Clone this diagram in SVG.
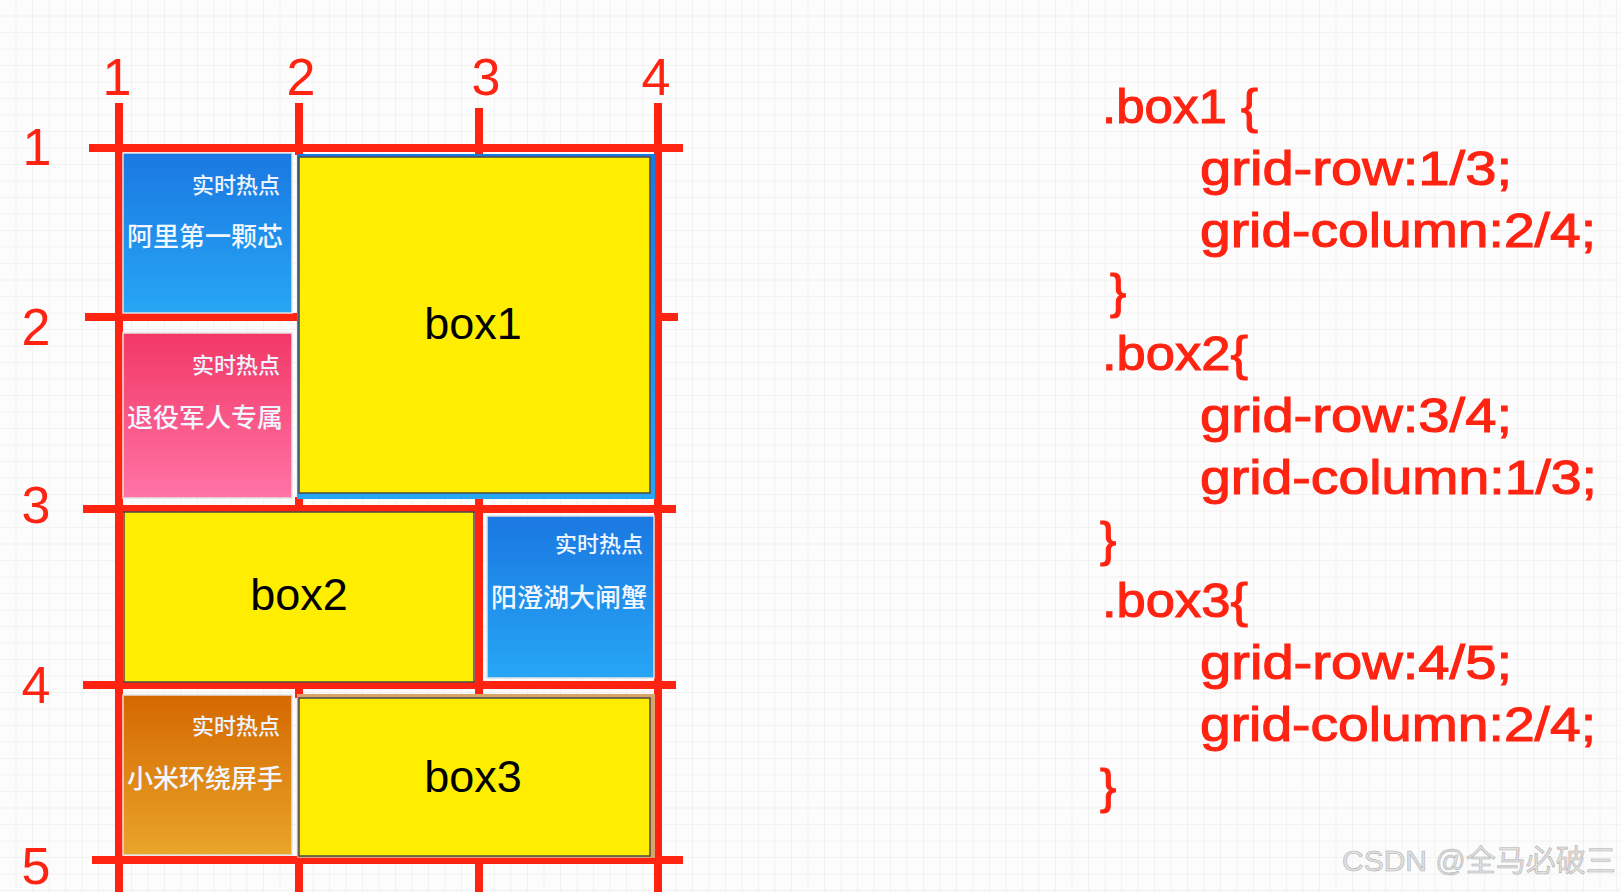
<svg xmlns="http://www.w3.org/2000/svg" width="1621" height="892" viewBox="0 0 1621 892">
<style>
.ln{stroke:#ff2312;stroke-width:8;fill:none}
.num{font-family:"Liberation Sans",Arial,sans-serif;font-size:52px;fill:#ff2312;text-anchor:middle}
.code{font-family:"Liberation Sans",Arial,sans-serif;font-size:49px;fill:#ff2312;stroke:#ff2312;stroke-width:1.1}
.ybox{fill:#ffee00;stroke:#4a4a4a;stroke-width:1.5}
.ylab{font-family:"Liberation Sans",Arial,sans-serif;font-size:45px;fill:#000;text-anchor:middle}
.card{stroke:#e2e2e2;stroke-width:1.5}
.hot{font-family:"Noto Sans CJK SC",sans-serif;font-size:22px;font-weight:500;fill:#eef4ff;text-anchor:end}
.main{font-family:"Noto Sans CJK SC",sans-serif;font-size:26px;font-weight:500;fill:#f2f6ff}
.wm{font-family:"Liberation Sans","Noto Sans CJK SC",sans-serif;font-size:30px;fill:#e2e2e2;stroke:#b0b0b0;stroke-width:0.6}
</style>
<defs>
<pattern id="bg" width="16.5" height="16.5" patternUnits="userSpaceOnUse">
<rect width="16.5" height="16.5" fill="#fcfcfc"/>
<path d="M16.5 0V16.5M0 16.5H16.5" stroke="#e9e9e9" stroke-width="1"/>
</pattern>
<linearGradient id="gBlue" x1="0" y1="0" x2="0" y2="1"><stop offset="0" stop-color="#1a78e2"/><stop offset="1" stop-color="#27a6f4"/></linearGradient>
<linearGradient id="gPink" x1="0" y1="0" x2="0" y2="1"><stop offset="0" stop-color="#f23866"/><stop offset="1" stop-color="#ff74a6"/></linearGradient>
<linearGradient id="gOrange" x1="0" y1="0" x2="0" y2="1"><stop offset="0" stop-color="#d46800"/><stop offset="1" stop-color="#e9a52b"/></linearGradient>
</defs>
<rect width="1621" height="892" fill="url(#bg)"/>

<g id="grid-lines">
<line class="ln" x1="119" y1="103" x2="119" y2="892"/>
<line class="ln" x1="299" y1="103" x2="299" y2="155"/>
<line class="ln" x1="299" y1="497" x2="299" y2="512"/>
<line class="ln" x1="299" y1="682" x2="299" y2="698"/>
<line class="ln" x1="299" y1="856" x2="299" y2="892"/>
<line class="ln" x1="479" y1="108" x2="479" y2="892"/>
<line class="ln" x1="658" y1="103" x2="658" y2="892"/>
<line class="ln" x1="89" y1="148" x2="683" y2="148"/>
<line class="ln" x1="85" y1="317" x2="678" y2="317"/>
<line class="ln" x1="83" y1="509" x2="676" y2="509"/>
<line class="ln" x1="83" y1="685" x2="676" y2="685"/>
<line class="ln" x1="92" y1="860" x2="683" y2="860"/>
</g>

<g id="line-numbers">
<text class="num" x="117" y="95">1</text>
<text class="num" x="301" y="95">2</text>
<text class="num" x="486" y="95">3</text>
<text class="num" x="656" y="95">4</text>
<text class="num" x="37" y="165">1</text>
<text class="num" x="36" y="345">2</text>
<text class="num" x="36" y="523">3</text>
<text class="num" x="36" y="703">4</text>
<text class="num" x="36" y="884">5</text>
</g>

<g id="card-ali">
<rect class="card" x="123" y="153" width="169" height="160" fill="url(#gBlue)"/>
<text class="hot" x="280" y="193">实时热点</text>
<text class="main" x="127" y="246">阿里第一颗芯</text>
</g>

<g id="card-tuiyi">
<rect class="card" x="123" y="333" width="169" height="165" fill="url(#gPink)"/>
<text class="hot" x="280" y="373">实时热点</text>
<text class="main" x="127" y="427">退役军人专属</text>
</g>

<g id="box1">
<rect x="297" y="154" width="358" height="345" fill="url(#gBlue)"/>
<rect class="ybox" x="299" y="157" width="351" height="336"/>
<text class="ylab" x="473" y="339">box1</text>
</g>

<g id="box2">
<rect class="ybox" x="124" y="512" width="350" height="170"/>
<text class="ylab" x="299" y="610">box2</text>
</g>

<g id="card-yangcheng">
<rect class="card" x="487" y="516" width="167" height="162" fill="url(#gBlue)"/>
<text class="hot" x="643" y="552">实时热点</text>
<text class="main" x="491" y="607">阳澄湖大闸蟹</text>
</g>

<g id="card-xiaomi">
<rect class="card" x="123" y="695" width="169" height="160" fill="url(#gOrange)"/>
<text class="hot" x="280" y="734">实时热点</text>
<text class="main" x="127" y="788">小米环绕屏手</text>
</g>

<g id="box3">
<rect x="297" y="694" width="358" height="164" fill="#d9a36a"/>
<rect class="ybox" x="299" y="698" width="351" height="158"/>
<text class="ylab" x="473" y="792">box3</text>
</g>

<g id="code">
<text class="code" x="1102" y="123" textLength="156" lengthAdjust="spacingAndGlyphs">.box1 {</text>
<text class="code" x="1200" y="185" textLength="312" lengthAdjust="spacingAndGlyphs">grid-row:1/3;</text>
<text class="code" x="1200" y="247" textLength="396" lengthAdjust="spacingAndGlyphs">grid-column:2/4;</text>
<text class="code" x="1110" y="308">}</text>
<text class="code" x="1102" y="370" textLength="146" lengthAdjust="spacingAndGlyphs">.box2{</text>
<text class="code" x="1200" y="432" textLength="312" lengthAdjust="spacingAndGlyphs">grid-row:3/4;</text>
<text class="code" x="1200" y="494" textLength="397" lengthAdjust="spacingAndGlyphs">grid-column:1/3;</text>
<text class="code" x="1100" y="556">}</text>
<text class="code" x="1102" y="617" textLength="146" lengthAdjust="spacingAndGlyphs">.box3{</text>
<text class="code" x="1200" y="679" textLength="312" lengthAdjust="spacingAndGlyphs">grid-row:4/5;</text>
<text class="code" x="1200" y="741" textLength="396" lengthAdjust="spacingAndGlyphs">grid-column:2/4;</text>
<text class="code" x="1100" y="803">}</text>
</g>

<text class="wm" x="1342" y="871">CSDN @全马必破三</text>
</svg>
